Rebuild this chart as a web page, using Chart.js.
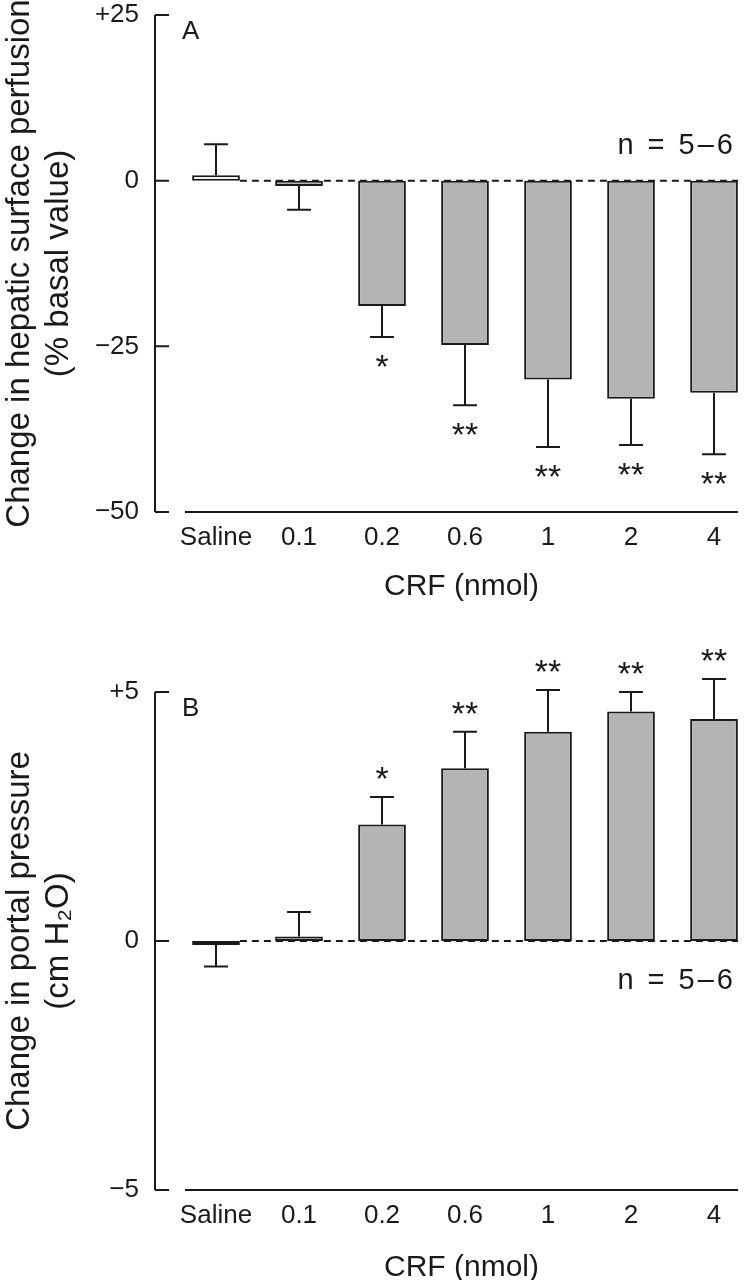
<!DOCTYPE html>
<html>
<head>
<meta charset="utf-8">
<title>CRF: hepatic surface perfusion and portal pressure</title>
<script src="https://cdn.jsdelivr.net/npm/chart.js@4.4.0/dist/chart.umd.min.js"></script>
<style>
  html, body { margin: 0; padding: 0; background: #fff; overflow: hidden; }
  canvas { display: block; }
</style>
</head>
<body>
<canvas id="chartA" width="745" height="640"></canvas>
<canvas id="chartB" width="745" height="640"></canvas>
<script>
// CRF dose groups (nmol)
const doses = ["Saline", "0.1", "0.2", "0.6", "1", "2", "4"];

// A - change in hepatic surface perfusion (% basal value), mean and SEM
const perfusionMean = [0.8, -0.8, -18.9, -24.8, -30.0, -32.9, -32.0];
const perfusionSem = [4.7, 3.6, 4.7, 9.1, 10.2, 7.0, 9.3];
const perfusionSig = ["", "", "*", "**", "**", "**", "**"];
const perfusionTicks = [25, 0, -25, -50];

// B - change in portal pressure (cm H2O), mean and SEM
const pressureMean = [-0.08, 0.09, 2.34, 3.47, 4.2, 4.61, 4.46];
const pressureSem = [0.43, 0.49, 0.55, 0.73, 0.84, 0.39, 0.8];
const pressureSig = ["", "", "*", "**", "**", "**", "**"];
const pressureTicks = [5, 0, -5];

const FONT = '"Liberation Sans", Arial, sans-serif';
const INK = "#1a1a1a";
const BAR_GREY = "#b4b4b4";

function signed(v) {
  if (v > 0) return "+" + v;
  if (v < 0) return "\u2212" + Math.abs(v);
  return "0";
}

// zero line, error bars, stars, axes and panel labels
const figureDecor = {
  id: "figureDecor",
  beforeDatasetsDraw(chart) {
    const { ctx, chartArea } = chart;
    const first = chart.getDatasetMeta(0).data[0];
    const y0 = chart.scales.y.getPixelForValue(0);
    ctx.save();
    ctx.strokeStyle = INK;
    ctx.lineWidth = 2;
    ctx.setLineDash([7, 5]);
    ctx.beginPath();
    ctx.moveTo(first.x + first.width / 2, y0);
    ctx.lineTo(chartArea.right, y0);
    ctx.stroke();
    ctx.restore();
  },
  afterDatasetsDraw(chart, args, opts) {
    const { ctx } = chart;
    const y = chart.scales.y;
    const bars = chart.getDatasetMeta(0).data;
    ctx.save();
    ctx.strokeStyle = INK;
    ctx.lineWidth = 2;
    bars.forEach((bar, i) => {
      const v = opts.mean[i];
      const dir = v >= 0 ? 1 : -1;
      const yv = y.getPixelForValue(v);
      const ye = y.getPixelForValue(v + dir * opts.sem[i]);
      const cap = bar.width / 4;
      ctx.beginPath();
      ctx.moveTo(bar.x, yv);
      ctx.lineTo(bar.x, ye);
      ctx.moveTo(bar.x - cap, ye);
      ctx.lineTo(bar.x + cap, ye);
      ctx.stroke();

      if (opts.sig[i]) {
        ctx.font = "34px " + FONT;
        ctx.fillStyle = INK;
        ctx.textAlign = "center";
        ctx.textBaseline = "alphabetic";
        const m = ctx.measureText(opts.sig[i]);
        const mid = (m.actualBoundingBoxAscent - m.actualBoundingBoxDescent) / 2;
        const cy = ye - dir * 24;
        ctx.fillText(opts.sig[i], bar.x, cy + mid);
      }
    });
    ctx.restore();
  },
  afterDraw(chart, args, opts) {
    const { ctx, chartArea } = chart;
    const y = chart.scales.y;
    const axisX = chartArea.left - 30;
    ctx.save();
    ctx.strokeStyle = INK;
    ctx.lineWidth = 2;
    ctx.beginPath();
    ctx.moveTo(axisX, y.getPixelForValue(y.max));
    ctx.lineTo(axisX, y.getPixelForValue(y.min));
    opts.ticks.forEach((t) => {
      const py = y.getPixelForValue(t);
      ctx.moveTo(axisX, py);
      ctx.lineTo(axisX + 14, py);
    });
    ctx.moveTo(chartArea.left, chartArea.bottom);
    ctx.lineTo(chartArea.right, chartArea.bottom);
    ctx.stroke();

    ctx.fillStyle = INK;
    ctx.textBaseline = "middle";
    ctx.textAlign = "left";
    ctx.font = "26px " + FONT;
    ctx.fillText(opts.panel, chartArea.left - 3, chartArea.top + 17);

    ctx.textAlign = "right";
    ctx.font = "29px " + FONT;
    ctx.letterSpacing = "3px";
    ctx.fillText("n = 5\u20136", chartArea.right - 2, y.getPixelForValue(opts.nAt));
    ctx.restore();
  }
};

function makeChart(id, mean, sem, sig, ticks, yTitle, panel, nAt, pad) {
  return new Chart(document.getElementById(id), {
    type: "bar",
    data: {
      datasets: [{
        data: mean.map((v, i) => ({ x: i, y: v })),
        backgroundColor: mean.map((v, i) => (i === 0 ? "#ffffff" : BAR_GREY)),
        borderColor: INK,
        borderWidth: 2,
        borderSkipped: false,
        categoryPercentage: 1,
        barPercentage: 0.575
      }]
    },
    options: {
      responsive: false,
      animation: false,
      events: [],
      layout: { padding: { top: pad.top, bottom: pad.bottom, left: 0, right: 7 } },
      scales: {
        x: {
          type: "linear",
          offset: false,
          min: -0.3735,
          max: 6.289,
          grid: { display: false, drawTicks: false },
          border: { display: false },
          afterBuildTicks: (s) => { s.ticks = doses.map((d, i) => ({ value: i })); },
          afterFit: (s) => { s.height = pad.xHeight; },
          ticks: {
            autoSkip: false,
            maxRotation: 0,
            padding: 10,
            color: INK,
            font: { family: FONT, size: 26 },
            callback: (v) => doses[v]
          },
          title: {
            display: true,
            text: "CRF (nmol)",
            color: INK,
            padding: { top: 0, bottom: 0 },
            font: { family: FONT, size: 30, lineHeight: 0.8 }
          }
        },
        y: {
          min: ticks[ticks.length - 1],
          max: ticks[0],
          grid: { display: false, drawTicks: true, tickLength: 44 },
          border: { display: false },
          afterBuildTicks: (s) => { s.ticks = ticks.map((t) => ({ value: t })); },
          afterFit: (s) => { s.width = 185; },
          ticks: {
            padding: 2,
            color: INK,
            font: { family: FONT, size: 26, lineHeight: 1 },
            callback: (v) => signed(v)
          },
          title: {
            display: true,
            text: yTitle,
            color: INK,
            padding: { top: 0, bottom: 0 },
            font: { family: FONT, size: 33, lineHeight: 1.2 }
          }
        }
      },
      plugins: {
        legend: { display: false },
        tooltip: { enabled: false },
        figureDecor: { mean: mean, sem: sem, sig: sig, ticks: ticks, panel: panel, nAt: nAt }
      }
    },
    plugins: [figureDecor]
  });
}

makeChart("chartA", perfusionMean, perfusionSem, perfusionSig, perfusionTicks,
  ["Change in hepatic surface perfusion", "(% basal value)"], "A", 5.3,
  { top: 14, bottom: 41, xHeight: 87 });

makeChart("chartB", pressureMean, pressureSem, pressureSig, pressureTicks,
  ["Change in portal pressure", "(cm H\u2082O)"], "B", -0.8,
  { top: 52, bottom: 0, xHeight: 90 });
</script>
</body>
</html>
